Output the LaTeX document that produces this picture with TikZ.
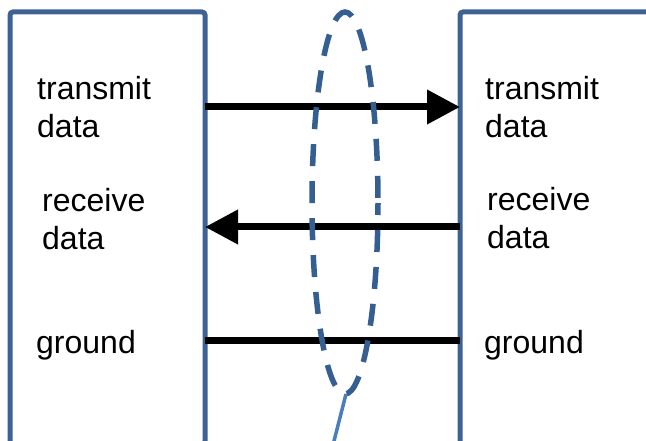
\documentclass[tikz,border=0pt]{standalone}
\usepackage{fontspec}
\setmainfont{Liberation Sans}
\usetikzlibrary{arrows.meta}
\definecolor{boxblue}{RGB}{62,98,148}
\definecolor{ringblue}{RGB}{54,95,145}
\definecolor{tailblue}{RGB}{74,126,187}
\newcommand{\twolines}[2]{\vtop{\hbox{#1}\hbox{#2}}}
\tikzset{
  station/.style={draw=boxblue, line width=5pt, rounded corners=3pt},
  label/.style={anchor=base west, inner sep=0pt, font=\fontsize{32}{38}\selectfont},
  wire/.style={draw=black, line width=7pt},
  signal/.style={wire, -{Triangle[length=33pt, width=33pt]}},
  ring/.style={draw=ringblue, line width=5.5pt, dash pattern=on 22pt off 15pt, dash phase=10pt},
  tail/.style={draw=tailblue, line width=3.5pt}
}
\begin{document}
\begin{tikzpicture}[x=1pt, y=-1pt]
  \useasboundingbox (0,0) rectangle (646,441);
  % the two stations
  \draw[station] (10,444) rectangle (205,12);
  \draw[station] (460,444) rectangle (670,12);
  \coordinate (L1) at (205,107);
  \coordinate (R1) at (460,107);
  \coordinate (L2) at (205,227);
  \coordinate (R2) at (460,227);
  \coordinate (L3) at (205,340);
  \coordinate (R3) at (460,340);
  % signal labels, left side
  \node[label] (ltx) at (37,100) {\twolines{transmit}{data}};
  \node[label] (lrx) at (42,212) {\twolines{receive}{data}};
  \node[label] (lgnd) at (36,353) {ground};
  % signal labels, right side
  \node[label] (rtx) at (485,100) {\twolines{transmit}{data}};
  \node[label] (rrx) at (487,211) {\twolines{receive}{data}};
  \node[label] (rgnd) at (484,353) {ground};
  % the three wires
  \draw[signal] (L1) -- (R1);
  \draw[signal] (R2) -- (L2);
  \draw[wire] (L3) -- (R3);
  % bundle marker with its pointer
  \draw[ring] (345,203) ellipse [x radius=33, y radius=191];
  \coordinate (ringbottom) at (346,394);
  \coordinate (tailend) at (333,445);
  \draw[tail] (ringbottom) -- (tailend);
\end{tikzpicture}
\end{document}
